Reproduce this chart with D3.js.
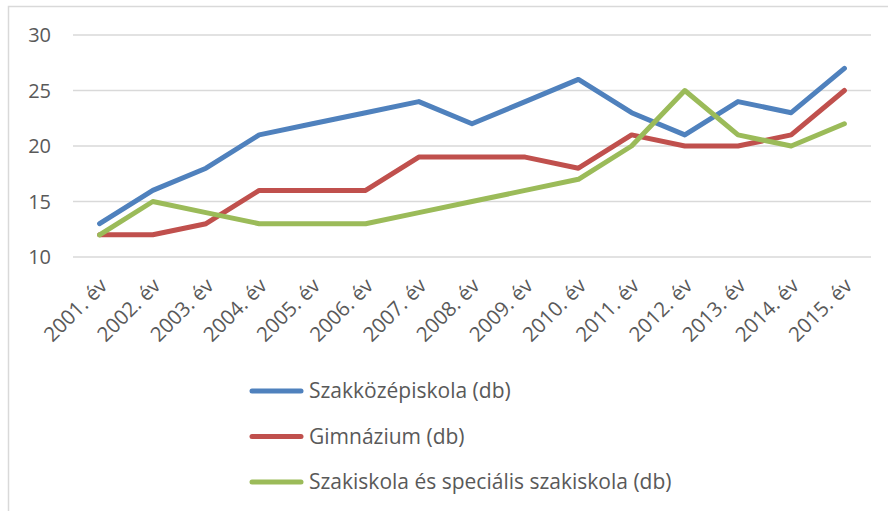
<html>
<head>
<meta charset="utf-8">
<script src="https://cdnjs.cloudflare.com/ajax/libs/d3/7.8.5/d3.min.js"></script>
<style>
body {
  margin: 0px;
  background-color: #FFFFFF;
}
svg text {
  font-family: "Open Sans", "Noto Sans", sans-serif;
  fill: #595959;
}
.grid line {
  stroke: #D9D9D9;
  stroke-width: 1.5;
}
</style>
</head>
<body>
<div class="target"></div>
<script>
// values
var years = ["2001. év", "2002. év", "2003. év", "2004. év", "2005. év", "2006. év", "2007. év",
  "2008. év", "2009. év", "2010. év", "2011. év", "2012. év", "2013. év", "2014. év", "2015. év"];
var szakkozep = [13, 16, 18, 21, 22, 23, 24, 22, 24, 26, 23, 21, 24, 23, 27];
var gimnazium = [12, 12, 13, 16, 16, 16, 19, 19, 19, 18, 21, 20, 20, 21, 25];
var szakiskola = [12, 15, 14, 13, 13, 13, 14, 15, 16, 17, 20, 25, 21, 20, 22];
var seriesNames = ["Szakközépiskola (db)", "Gimnázium (db)", "Szakiskola és speciális szakiskola (db)"];
var seriesColors = ["#4F81BD", "#C0504D", "#9BBB59"];
var yTicks = [10, 15, 20, 25, 30];

var width = 888, height = 511;
var plot = {left: 73, right: 871, top: 35, bottom: 257};

var svg = d3.select(".target").append("svg")
  .attr("width", width)
  .attr("height", height);

// chart border (only top and left visible in the crop)
svg.append("rect")
  .attr("x", 8.5).attr("y", 6.5)
  .attr("width", width + 10).attr("height", height + 10)
  .attr("fill", "none")
  .attr("stroke", "#D9D9D9")
  .attr("stroke-width", 1.5);

var x = d3.scaleBand().domain(years).range([plot.left, plot.right]);
var y = d3.scaleLinear().domain([10, 30]).range([plot.bottom, plot.top]);

var grid = svg.append("g").attr("class", "grid");
grid.selectAll("line")
  .data(yTicks)
  .enter().append("line")
    .attr("x1", plot.left).attr("x2", plot.right)
    .attr("y1", function(d) { return y(d); })
    .attr("y2", function(d) { return y(d); });

svg.append("g").selectAll("text")
  .data(yTicks)
  .enter().append("text")
    .attr("x", 51)
    .attr("y", function(d) { return y(d); })
    .attr("dy", "0.35em")
    .attr("text-anchor", "end")
    .style("font-size", "20px")
    .text(function(d) { return d; });

svg.append("g").selectAll("text")
  .data(years)
  .enter().append("text")
    .attr("transform", function(d) {
      return "translate(" + (x(d) + x.bandwidth() / 2 + 9) + ",287) rotate(-45)";
    })
    .attr("text-anchor", "end")
    .style("font-size", "20.5px")
    .text(function(d) { return d; });

var allSeries = [szakkozep, gimnazium, szakiskola];
var line = d3.line()
  .x(function(d, i) { return x(years[i]) + x.bandwidth() / 2; })
  .y(function(d) { return y(d); });

svg.append("g").selectAll("path")
  .data(allSeries)
  .enter().append("path")
    .attr("d", line)
    .attr("fill", "none")
    .attr("stroke", function(d, i) { return seriesColors[i]; })
    .attr("stroke-width", 5)
    .attr("stroke-linejoin", "round")
    .attr("stroke-linecap", "round");

var legend = svg.append("g").selectAll("g")
  .data(seriesNames)
  .enter().append("g")
    .attr("transform", function(d, i) { return "translate(250," + (391 + i * 45.5) + ")"; });

legend.append("line")
  .attr("x1", 2).attr("x2", 51)
  .attr("stroke", function(d, i) { return seriesColors[i]; })
  .attr("stroke-width", 5)
  .attr("stroke-linecap", "round");

legend.append("text")
  .attr("x", 59)
  .attr("dy", "0.35em")
  .style("font-size", "21px")
  .text(function(d) { return d; });
</script>
</body>
</html>
